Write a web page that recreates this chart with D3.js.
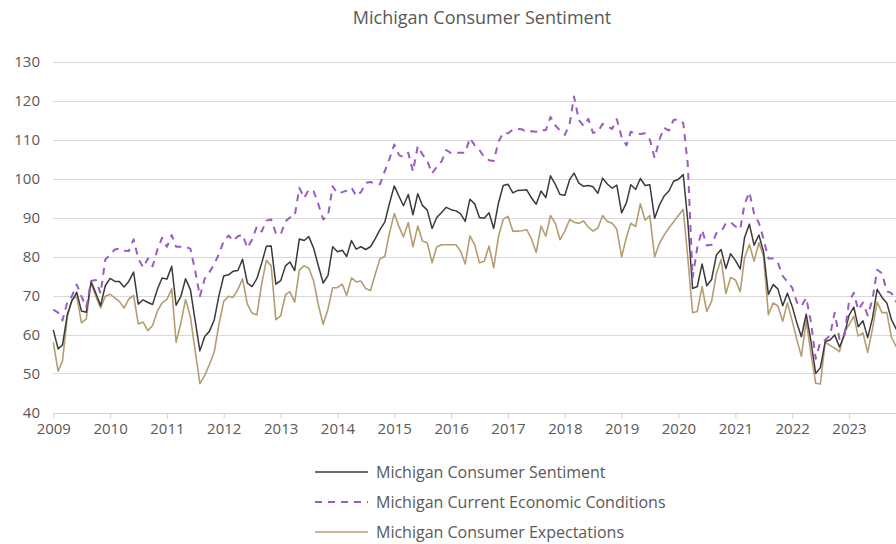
<!DOCTYPE html>
<html><head><meta charset="utf-8">
<script src="https://cdn.jsdelivr.net/npm/d3@7"></script>
<style>
html,body{margin:0;padding:0;background:#fff;}
svg{display:block;}
text{font-family:"Open Sans","Liberation Sans",sans-serif;fill:#595959;}
</style></head>
<body>
<svg id="chart" width="896" height="544"></svg>
<script>
const title = "Michigan Consumer Sentiment";
const seriesNames = ["Michigan Consumer Sentiment","Michigan Current Economic Conditions","Michigan Consumer Expectations"];
const startMonth = "2009-01";
const yTicks = [40,50,60,70,80,90,100,110,120,130];
const xTickYears = [2009,2010,2011,2012,2013,2014,2015,2016,2017,2018,2019,2020,2021,2022,2023];

const sentiment = [
 61.2,56.3,57.3,65.1,68.7,70.8,66.0,65.7,73.5,70.6,67.4,72.5,
 74.4,73.6,73.6,72.2,73.6,76.0,67.8,68.9,68.2,67.7,71.6,74.5,
 74.2,77.5,67.5,69.8,74.3,71.5,63.7,55.8,59.5,60.8,63.7,69.9,
 75.0,75.3,76.2,76.4,79.3,73.2,72.3,74.3,78.3,82.6,82.7,72.9,
 73.8,77.6,78.6,76.4,84.5,84.1,85.1,82.1,77.5,73.2,75.1,82.5,
 81.2,81.6,80.0,84.1,81.9,82.5,81.8,82.5,84.6,86.9,88.8,93.6,
 98.1,95.4,93.0,95.9,90.7,96.1,93.1,91.9,87.2,90.0,91.3,92.6,
 92.0,91.7,91.0,89.0,94.7,93.5,90.0,89.8,91.2,87.2,93.8,98.2,
 98.5,96.3,96.9,97.0,97.1,95.0,93.4,96.8,95.1,100.7,98.5,95.9,
 95.7,99.7,101.4,98.8,98.0,98.2,97.9,96.2,100.1,98.6,97.5,98.3,
 91.2,93.8,98.4,97.2,100.0,98.2,98.4,89.8,93.2,95.5,96.8,99.3,
 99.8,101.0,89.1,71.8,72.3,78.1,72.5,74.1,80.4,81.8,76.9,80.7,
 79.0,76.8,84.9,88.3,82.9,85.5,81.2,70.3,72.8,71.7,67.4,70.6,
 67.2,62.8,59.4,65.2,58.4,50.0,51.5,58.2,58.6,59.9,56.8,59.7,
 64.9,67.0,62.0,63.5,59.2,64.2,71.6,69.5,68.1,63.8,61.3
];
const currentConditions = [
 66.4,65.6,63.6,68.3,69.9,72.8,69.8,67.0,73.7,74.0,70.5,79.2,
 80.5,81.8,82.0,81.5,81.4,84.4,79.5,77.2,79.5,77.5,81.8,84.8,
 82.5,85.5,82.5,82.5,82.5,82.0,76.5,69.8,74.3,76.0,78.0,80.6,
 83.9,85.4,84.0,85.2,85.6,82.2,84.3,87.7,86.4,89.2,89.5,86.0,
 85.6,89.0,90.0,90.3,97.6,95.0,97.2,96.7,93.3,89.5,90.4,98.0,
 96.2,96.5,96.9,97.7,95.5,96.5,98.9,99.1,98.7,98.5,101.9,105.0,
 108.7,106.0,105.5,106.6,101.8,108.3,106.2,104.5,101.3,103.0,104.4,107.3,
 106.5,106.6,106.6,106.6,110.4,108.5,107.3,105.5,104.7,104.5,109.5,111.7,
 111.6,112.5,112.7,112.6,111.9,112.1,112.0,112.5,112.4,115.8,113.6,112.3,
 111.2,114.0,121.0,115.0,113.5,115.3,111.7,112.0,114.0,113.4,112.7,115.2,
 110.6,108.5,112.0,111.5,111.4,111.6,110.0,105.3,110.0,113.0,112.3,115.0,
 115.2,114.2,103.7,74.5,82.3,86.8,82.8,83.0,86.0,86.4,88.5,88.8,
 87.7,87.0,93.5,96.5,91.0,88.6,84.5,79.5,79.5,78.4,75.0,73.5,
 72.0,68.2,67.2,69.4,63.3,53.8,58.1,58.6,59.7,65.6,58.8,59.4,
 68.4,70.7,66.3,68.2,64.9,69.0,76.6,75.7,71.1,70.6,68.3
];
const expectations = [
 58.0,50.6,53.2,64.5,69.0,69.8,63.0,64.0,73.4,69.8,66.8,69.8,
 70.3,69.4,68.5,66.8,69.1,70.0,62.7,63.2,61.0,62.3,66.0,68.1,
 69.0,71.7,58.0,63.0,69.0,64.5,56.0,47.4,49.5,52.3,55.5,62.5,
 68.5,69.8,69.5,71.5,74.3,67.8,65.5,65.0,73.0,79.0,77.6,63.8,
 64.8,70.2,71.0,68.3,76.5,77.6,77.0,73.7,67.5,62.6,66.5,72.0,
 72.0,72.9,70.0,74.5,73.5,73.7,71.8,71.3,75.5,79.4,80.0,86.0,
 91.0,87.6,85.0,88.7,82.5,87.8,84.0,83.5,78.4,82.5,83.0,83.0,
 83.0,83.0,81.5,78.1,85.3,83.0,78.4,78.8,82.7,77.1,85.2,89.5,
 90.3,86.5,86.5,86.6,86.9,84.5,81.0,87.8,85.2,90.5,88.5,84.3,
 86.5,89.5,88.8,88.5,89.1,87.5,86.5,87.3,90.5,89.0,88.5,87.0,
 79.9,85.0,88.5,87.7,93.5,89.3,90.5,79.9,83.4,85.5,87.3,88.9,
 90.5,92.1,79.7,65.6,65.9,72.3,65.9,68.5,75.6,79.2,70.5,74.6,
 74.0,71.0,79.7,83.1,78.8,83.5,80.1,65.1,68.1,67.3,63.4,68.1,
 63.5,58.5,54.4,63.5,55.2,47.5,47.3,58.0,57.2,56.5,55.6,60.5,
 62.5,64.7,59.6,60.4,55.4,61.5,68.3,65.6,65.6,59.3,56.8
];

const colors = ["#3a3a3a","#9a5cc0","#b59d72"];
const dashes = [null,"7,6",null];
const widths = [1.5,2,1.6];

const svg = d3.select("#chart");
const parse = d3.timeParse("%Y-%m");
const start = parse(startMonth);
const months = d3.range(sentiment.length).map(i => d3.timeMonth.offset(start, i));

const x = d3.scaleTime()
  .domain([new Date(2009,0,1), new Date(2023,0,1)])
  .range([53.3, 849]);
const y = d3.scaleLinear().domain([40,130]).range([412.5, 61.5]);

// gridlines
svg.append("g").selectAll("line").data(yTicks.filter(v=>v>40)).join("line")
  .attr("x1",53).attr("x2",896)
  .attr("y1",d=>Math.round(y(d))+0.5).attr("y2",d=>Math.round(y(d))+0.5)
  .attr("stroke","#d9d9d9").attr("stroke-width",1);

// y labels
svg.append("g").selectAll("text").data(yTicks).join("text")
  .attr("x",40).attr("y",d=>y(d)).attr("dy","0.35em")
  .attr("text-anchor","end").style("font-size","15px").text(d=>d);

// x axis
const xAxis = d3.axisBottom(x)
  .tickValues(xTickYears.map(yr=>new Date(yr,0,1)))
  .tickFormat(d3.timeFormat("%Y"))
  .tickSize(5).tickPadding(5);
const gx = svg.append("g").attr("transform",`translate(0,${Math.round(y(40))+0.5})`).call(xAxis);
gx.select(".domain").attr("d","M53,0H896").attr("stroke","#d0d0d0");
gx.selectAll(".tick line").attr("stroke","#d0d0d0");
gx.selectAll(".tick text").style("font-size","15px").attr("fill","#595959")
  .style("font-family","'Open Sans','Liberation Sans',sans-serif");

// lines
const seriesData = [sentiment, currentConditions, expectations];
const line = d3.line().x((d,i)=>x(months[i])).y(d=>y(d)).curve(d3.curveLinear);
const order = [2,0,1];
order.forEach(k=>{
  svg.append("path").datum(seriesData[k])
    .attr("d",line).attr("fill","none")
    .attr("stroke",colors[k]).attr("stroke-width",widths[k])
    .attr("stroke-linejoin","round")
    .attr("stroke-dasharray",dashes[k]);
});

// title
svg.append("text").attr("x",482).attr("y",24).attr("text-anchor","middle")
  .style("font-size","18px").text(title);

// legend
const lg = svg.append("g");
seriesNames.forEach((n,k)=>{
  const ly = 472 + k*30;
  lg.append("line").attr("x1",315).attr("x2",368).attr("y1",ly).attr("y2",ly)
    .attr("stroke",colors[k]).attr("stroke-width",widths[k]).attr("stroke-dasharray",dashes[k]);
  lg.append("text").attr("x",376).attr("y",ly).attr("dy","0.35em")
    .style("font-size","16px").text(n);
});
</script>
</body></html>
